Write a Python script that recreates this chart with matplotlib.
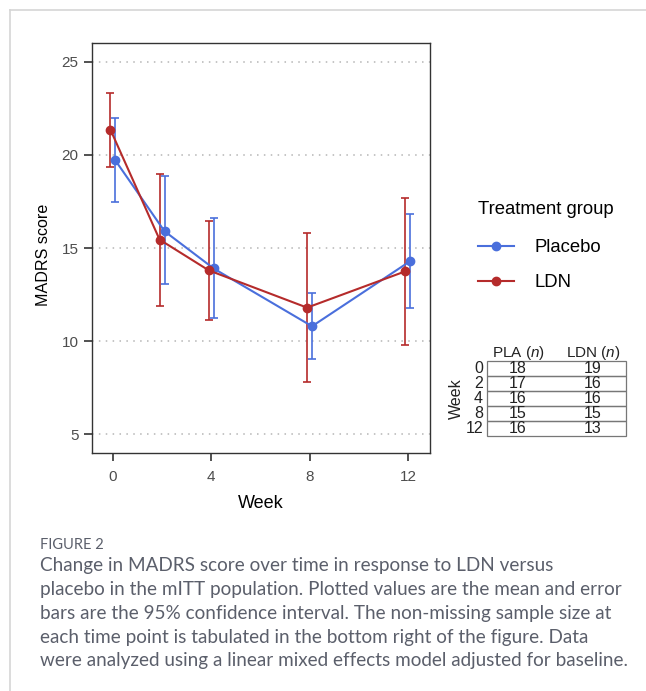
import matplotlib.pyplot as plt
from matplotlib.lines import Line2D
from matplotlib.patches import Rectangle

plt.rcParams['font.family'] = ['Liberation Sans', 'DejaVu Sans']
plt.rcParams['mathtext.fontset'] = 'custom'
plt.rcParams['mathtext.it'] = 'Liberation Sans:italic'
plt.rcParams['mathtext.rm'] = 'Liberation Sans'

# data
weeks = [0, 2, 4, 8, 12]
pla_mean = [19.7, 15.9, 13.9, 10.8, 14.3]
pla_lo = [17.45, 13.05, 11.25, 9.05, 11.8]
pla_hi = [22.0, 18.85, 16.6, 12.6, 16.8]
ldn_mean = [21.35, 15.45, 13.8, 11.8, 13.75]
ldn_lo = [19.35, 11.9, 11.15, 7.8, 9.8]
ldn_hi = [23.3, 18.95, 16.45, 15.8, 17.7]
pla_n = [18, 17, 16, 15, 16]
ldn_n = [19, 16, 16, 15, 13]

blue = '#4a6fdc'
red = '#b52b2b'
W, H = 646, 691

fig = plt.figure(figsize=(W / 100, H / 100), dpi=100)

# main plot
ax = fig.add_axes([92 / W, 1 - 453 / H, 338 / W, 410 / H])
dodge = 0.1
for mean, lo, hi, col, sh, lab in [(pla_mean, pla_lo, pla_hi, blue, dodge, 'Placebo'),
                                   (ldn_mean, ldn_lo, ldn_hi, red, -dodge, 'LDN')]:
    x = [w + sh for w in weeks]
    yerr = [[m - l for m, l in zip(mean, lo)], [h - m for m, h in zip(mean, hi)]]
    ax.errorbar(x, mean, yerr=yerr, color=col, lw=1.5, marker='o', ms=6,
                capsize=3, capthick=1.2, elinewidth=1.2, label=lab)

ax.set_xlim(-0.85, 12.9)
ax.set_ylim(4.0, 26.0)
ax.set_xticks([0, 4, 8, 12])
ax.set_yticks([5, 10, 15, 20, 25])
for yv in [5, 10, 15, 20, 25]:
    ax.axhline(yv, color='#b5b5b5', lw=1.1, ls=(0, (1, 3.5)), zorder=0)
ax.tick_params(direction='out', length=5.8, width=1.2, color='#333333',
               labelcolor='#4d4d4d', labelsize=11)
ax.tick_params(axis='x', pad=6.5)
ax.tick_params(axis='y', pad=4)
for s in ax.spines.values():
    s.set_color('#333333')
    s.set_linewidth(1.0)
ax.set_xlabel('Week', fontsize=13, va='center')
ax.xaxis.set_label_coords(0.5, -(503 - 453) / 410)
ax.set_ylabel('MADRS score', fontsize=11.6, va='center')
ax.yaxis.set_label_coords((43 - 92) / 338, 1 - (255 - 43) / 410)

# legend
handles = [Line2D([], [], color=blue, lw=1.5, marker='o', ms=6),
           Line2D([], [], color=red, lw=1.5, marker='o', ms=6)]
leg = ax.legend(handles, ['Placebo', 'LDN'], title='Treatment group',
                loc='upper left', bbox_to_anchor=(463 / W, 1 - 186 / H),
                bbox_transform=fig.transFigure, frameon=False,
                fontsize=13.3, title_fontsize=13.3, handlelength=1.95,
                labelspacing=0.95, handletextpad=1.1, borderpad=0.3)
leg._legend_box.align = 'left'
leg._legend_box.sep = 0.95 * 13.3 + 3

# sample-size table, in pixel coordinates
fa = fig.add_axes([0, 0, 1, 1])
fa.set_xlim(0, W)
fa.set_ylim(H, 0)
fa.axis('off')
fa.text(518, 353, 'PLA ($n$)', ha='center', va='center', fontsize=11, color='#222222')
fa.text(593, 353, 'LDN ($n$)', ha='center', va='center', fontsize=11, color='#222222')
row_h = 15
for i, (w, a, b) in enumerate(zip(weeks, pla_n, ldn_n)):
    y0 = 361 + i * row_h
    fa.add_patch(Rectangle((487, y0), 139, row_h, fill=False, ec='#777777', lw=0.9))
    yc = y0 + row_h / 2
    fa.text(483, yc, str(w), ha='right', va='center', fontsize=11.5, color='#222222')
    fa.text(518, yc, str(a), ha='center', va='center', fontsize=11.5, color='#222222')
    fa.text(593, yc, str(b), ha='center', va='center', fontsize=11.5, color='#222222')
fa.text(456, 361 + 2.5 * row_h, 'Week', rotation=90, ha='center', va='center',
        fontsize=11.5, color='#222222')

# outer frame
fa.add_line(Line2D([10, W], [10, 10], color='#d5d5d5', lw=1.2))
fa.add_line(Line2D([10, 10], [10, H], color='#d5d5d5', lw=1.2))

# caption
cap_font = ['Lato', 'DejaVu Sans']
fa.text(40, 545, 'FIGURE 2', fontsize=10.5, color='#5b5f6b', family=cap_font,
        va='center')
caption = ['Change in MADRS score over time in response to LDN versus',
           'placebo in the mITT population. Plotted values are the mean and error',
           'bars are the 95% confidence interval. The non-missing sample size at',
           'each time point is tabulated in the bottom right of the figure. Data',
           'were analyzed using a linear mixed effects model adjusted for baseline.']
for i, line in enumerate(caption):
    fa.text(40, 566 + i * 23.7, line, fontsize=13.6, color='#5b5f6b',
            family=cap_font, va='center')

fig.savefig('out.png', dpi=100)
